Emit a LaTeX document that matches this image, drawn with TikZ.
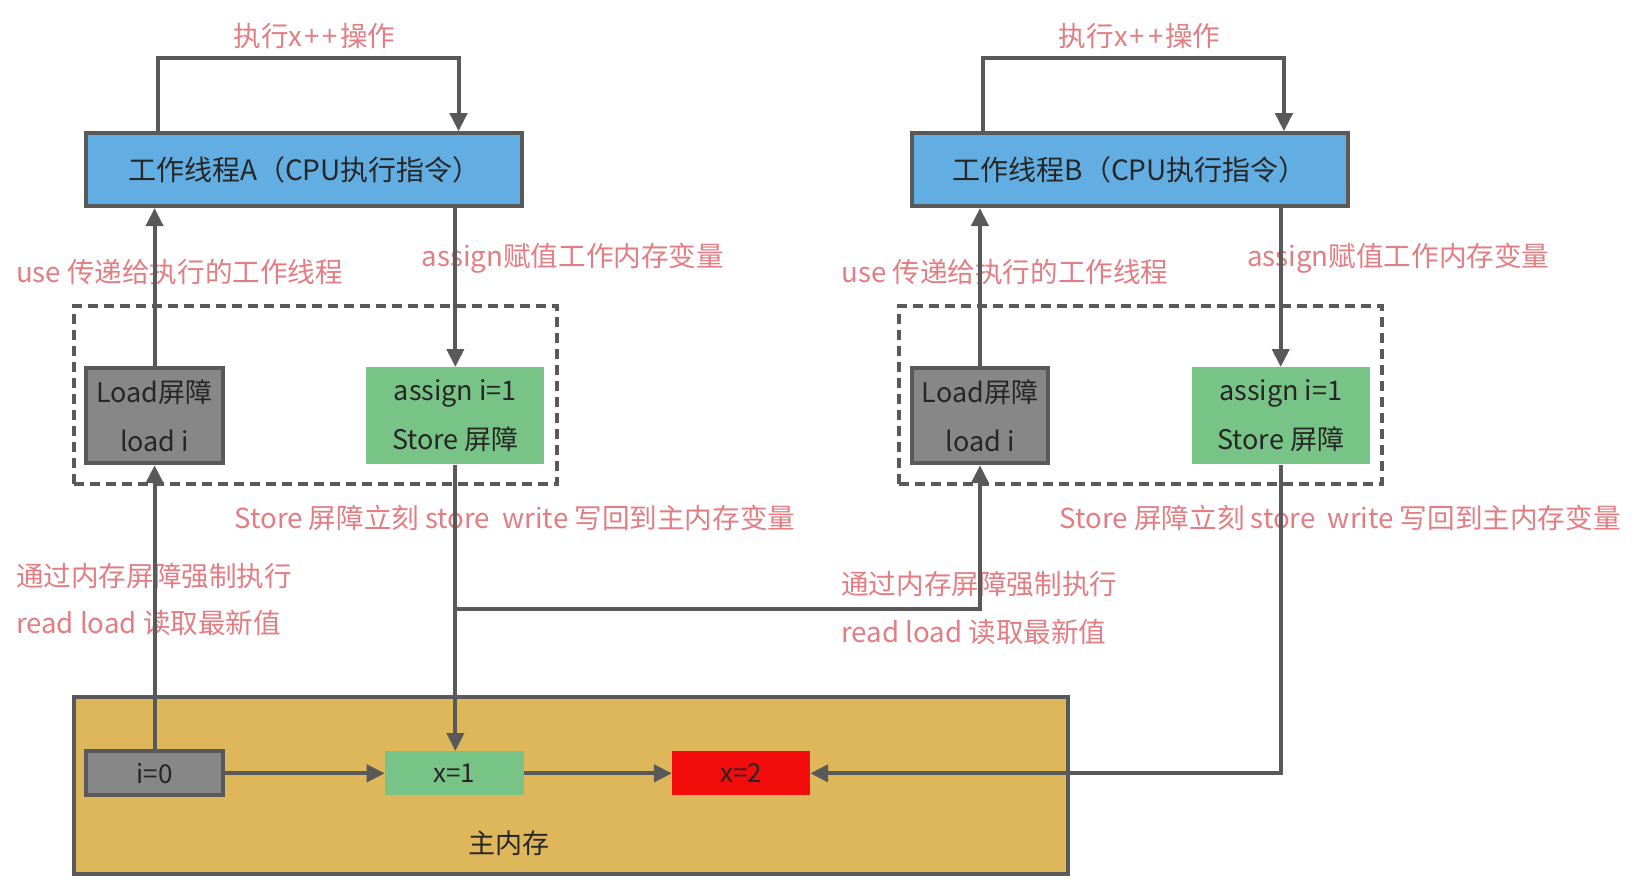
\documentclass[tikz,border=0pt]{standalone}
\usepackage{fontspec}
\setmainfont{Noto Sans CJK SC}
\usetikzlibrary{arrows.meta}
\definecolor{lab}{HTML}{E27D83}
\definecolor{ln}{HTML}{595959}
\definecolor{bluef}{HTML}{62AEE3}
\definecolor{greenf}{HTML}{78C487}
\definecolor{grayf}{HTML}{878787}
\definecolor{goldf}{HTML}{DFB75B}
\definecolor{redf}{HTML}{F20C0C}
\definecolor{txt}{HTML}{262626}
\tikzset{
  arr/.style={draw=ln, line width=2pt, -{Triangle[length=9pt,width=8.5pt]}},
  thread/.style={draw=ln, line width=2pt, fill=bluef, minimum width=218pt, minimum height=36.4pt, inner sep=0pt, text=txt, font=\fontsize{14}{16}\selectfont},
  dbox/.style={draw=ln, line width=1.8pt, dash pattern=on 5pt off 3pt, minimum width=241.5pt, minimum height=89pt, inner sep=0pt},
  loadbox/.style={draw=ln, line width=2pt, fill=grayf, minimum width=68.2pt, minimum height=47.4pt, inner sep=0pt, text=txt, align=center, font=\fontsize{13.5}{24.5}\selectfont},
  asgbox/.style={fill=greenf, minimum width=89pt, minimum height=48.4pt, inner sep=0pt, text=txt, align=center, font=\fontsize{13.5}{24.5}\selectfont},
  membox/.style={minimum height=21.9pt, inner sep=0pt, text=txt, font=\fontsize{13}{15}\selectfont},
  lbl/.style={text=lab, inner sep=0pt, font=\fontsize{13.8}{16}\selectfont},
}
\begin{document}
\begin{tikzpicture}[x=0.5204pt,y=-0.5204pt]
\useasboundingbox (0,0) rectangle (1568,847.5);
% main memory
\node[draw=ln, line width=2pt, fill=goldf, minimum width=497pt, minimum height=88.5pt, inner sep=0pt] (mem) at (548.5,755) {};
\node[text=txt, inner sep=0pt, font=\fontsize{13.5}{15}\selectfont] (memlab) at (489,810) {主内存};
\node[membox, draw=ln, line width=2pt, fill=grayf, minimum width=68.2pt] (i0) at (148.5,743) {i=0};
\node[membox, fill=greenf, minimum width=69.2pt] (x1) at (436.5,743) {x=1};
\node[membox, fill=redf, minimum width=68.7pt] (x2) at (712,743) {x=2};
% dashed groups
\node[dbox] (dA) at (303,379.5) {};
\node[dbox] (dB) at (1096,379.5) {};
% threads
\node[thread] (tA) at (292.5,163) {工作线程A（CPU执行指令）};
\node[thread] (tB) at (1085.5,163) {工作线程B（CPU执行指令）};
% barrier boxes
\node[loadbox] (lA) at (148.5,399.5) {Load屏障\\load i};
\node[asgbox] (sA) at (437.5,399.5) {assign i=1\\Store 屏障};
\node[loadbox] (lB) at (941.5,399.5) {Load屏障\\load i};
\node[asgbox] (sB) at (1230.5,399.5) {assign i=1\\Store 屏障};
% labels
\node[lbl] (opA) at (302,35) {执行x\kern1pt+\kern1.5pt+\kern1pt操作};
\node[lbl] (opB) at (1095,35) {执行x\kern1pt+\kern1.5pt+\kern1pt操作};
\node[lbl, anchor=west] (useA) at (15,261) {use 传递给执行的工作线程};
\node[lbl, anchor=west] (useB) at (808,261) {use 传递给执行的工作线程};
\node[lbl, anchor=west] (asA) at (405,248) {assign赋值工作内存变量};
\node[lbl, anchor=west] (asB) at (1198,248) {assign赋值工作内存变量};
\node[lbl, anchor=west] (stA) at (225,498) {Store 屏障立刻 store\ \ write 写回到主内存变量};
\node[lbl, anchor=west] (stB) at (1018,498) {Store 屏障立刻 store\ \ write 写回到主内存变量};
\node[lbl, anchor=west] (mbA) at (15,553) {通过内存屏障强制执行};
\node[lbl, anchor=west] (rdA) at (15,599) {read load 读取最新值};
\node[lbl, anchor=west] (mbB) at (808,561) {通过内存屏障强制执行};
\node[lbl, anchor=west] (rdB) at (808,607) {read load 读取最新值};
% loops
\draw[arr] ([xshift=1.6pt]lA.north |- tA.north) -- ++(0,-70) -| ([xshift=1.6pt]sA.north |- tA.north);
\draw[arr] ([xshift=1.6pt]lB.north |- tB.north) -- ++(0,-70) -| ([xshift=1.6pt]sB.north |- tB.north);
% use / assign
\draw[arr] (lA.north) -- (lA.north |- tA.south);
\draw[arr] (sA.north |- tA.south) -- (sA.north);
\draw[arr] (lB.north) -- (lB.north |- tB.south);
\draw[arr] (sB.north |- tB.south) -- (sB.north);
% memory interactions
\draw[arr] (i0.north) -- (lA.south);
\draw[arr] (sA.south) -- (sA.south |- x1.north);
\coordinate (br) at (437.5,585);
\draw[arr] (br) -| (lB.south);
\draw[arr] (sB.south) |- (x2.east);
\draw[arr] (i0.east) -- (x1.west);
\draw[arr] (x1.east) -- (x2.west);
\end{tikzpicture}
\end{document}
